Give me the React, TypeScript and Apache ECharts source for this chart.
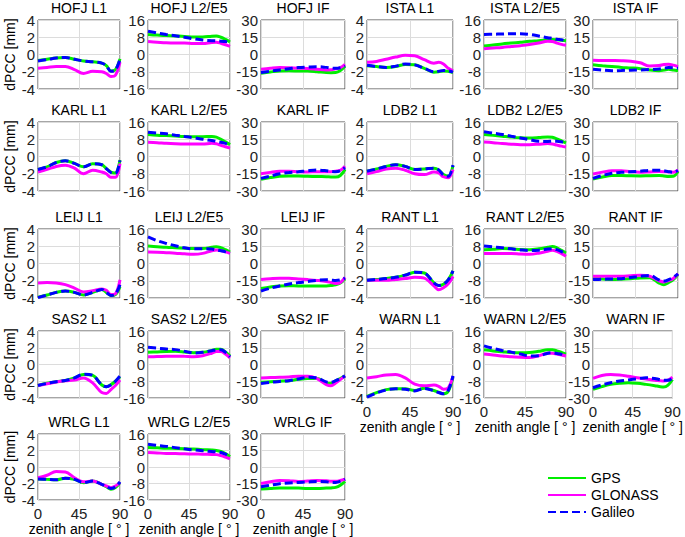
import React, { useEffect, useRef } from "react";
import * as echarts from "echarts";

// zenith angles (deg) at which the curves were read
const ZENITH = [0, 10, 20, 30, 40, 50, 60, 70, 75, 80, 85, 90];
const X_TICKS = [0, 45, 90];
const L1_TICKS = [-4, -2, 0, 2, 4];
const L2_TICKS = [-16, -8, 0, 8, 16];
const IF_TICKS = [-30, -15, 0, 15, 30];
const SYSTEMS = ["GPS", "GLONASS", "Galileo"];

const HOFJ_L1_GPS = [-0.7, -0.55, -0.4, -0.35, -0.55, -0.75, -0.85, -1.0, -1.3, -1.9, -1.75, -0.5];
const HOFJ_L1_GLO = [-1.6, -1.5, -1.4, -1.4, -1.75, -2.2, -1.95, -2.0, -2.2, -2.55, -2.4, -0.9];
const HOFJ_L1_GAL = [-0.75, -0.6, -0.4, -0.35, -0.55, -0.75, -0.85, -1.0, -1.3, -1.95, -1.8, -0.55];
const HOFJ_L2_GPS = [9.3, 9.0, 8.8, 8.6, 8.4, 8.1, 8.1, 8.5, 8.6, 8.0, 7.0, 5.8];
const HOFJ_L2_GLO = [6.0, 5.7, 5.4, 5.3, 5.3, 5.1, 5.1, 5.6, 5.7, 5.2, 4.5, 3.8];
const HOFJ_L2_GAL = [10.8, 10.0, 9.3, 8.7, 8.0, 7.3, 6.7, 6.4, 6.3, 6.2, 6.0, 5.6];
const HOFJ_IF_GPS = [-16.3, -15.2, -14.3, -14.2, -14.3, -14.4, -15.0, -15.7, -15.8, -15.7, -14.0, -10.0];
const HOFJ_IF_GLO = [-12.9, -12.0, -11.4, -11.6, -11.9, -12.2, -12.8, -13.4, -13.3, -12.5, -11.4, -8.6];
const HOFJ_IF_GAL = [-15.7, -14.5, -13.4, -12.4, -11.4, -11.0, -10.6, -11.2, -11.7, -12.0, -11.5, -10.0];

const ISTA_L1_GPS = [-1.3, -1.4, -1.5, -1.4, -1.15, -1.2, -1.6, -2.05, -2.0, -1.9, -1.95, -2.1];
const ISTA_L1_GLO = [-0.9, -0.8, -0.55, -0.3, -0.1, -0.15, -0.6, -1.0, -0.9, -1.1, -1.6, -1.9];
const ISTA_L1_GAL = [-1.25, -1.4, -1.5, -1.35, -1.1, -1.2, -1.6, -2.0, -1.95, -1.85, -1.9, -2.05];
const ISTA_L2_GPS = [4.0, 4.4, 4.9, 5.3, 5.7, 6.1, 6.4, 6.8, 6.9, 6.8, 6.6, 6.4];
const ISTA_L2_GLO = [2.7, 3.0, 3.3, 3.7, 4.1, 4.6, 5.3, 6.2, 6.0, 5.3, 4.7, 4.3];
const ISTA_L2_GAL = [9.3, 9.4, 9.5, 9.6, 9.6, 9.3, 8.6, 7.8, 7.5, 7.1, 6.8, 6.4];
const ISTA_IF_GPS = [-9.0, -9.8, -10.5, -11.2, -11.7, -12.3, -13.5, -14.1, -13.6, -12.9, -13.5, -14.1];
const ISTA_IF_GLO = [-5.1, -5.2, -5.3, -5.4, -5.8, -7.2, -10.0, -9.6, -8.6, -8.4, -9.2, -10.5];
const ISTA_IF_GAL = [-12.9, -13.6, -14.1, -13.9, -13.6, -13.4, -13.1, -12.6, -12.0, -11.4, -11.5, -12.0];

const KARL_L1_GPS = [-1.5, -1.2, -0.7, -0.5, -0.8, -1.2, -0.85, -0.95, -1.4, -1.8, -1.9, -0.4];
const KARL_L1_GLO = [-1.8, -1.5, -1.15, -1.0, -1.35, -2.0, -1.6, -1.8, -2.0, -2.4, -2.4, -0.8];
const KARL_L1_GAL = [-1.5, -1.2, -0.7, -0.5, -0.8, -1.2, -0.85, -0.95, -1.4, -1.85, -1.95, -0.45];
const KARL_L2_GPS = [10.2, 9.9, 9.7, 9.5, 9.3, 9.2, 9.2, 9.3, 9.0, 8.0, 6.8, 5.5];
const KARL_L2_GLO = [6.6, 6.4, 6.1, 5.9, 5.8, 5.8, 5.8, 6.1, 5.9, 5.2, 4.5, 3.9];
const KARL_L2_GAL = [11.3, 10.9, 10.5, 9.9, 9.3, 8.7, 8.0, 7.4, 7.0, 6.6, 6.1, 5.5];
const KARL_IF_GPS = [-19.9, -18.3, -17.2, -17.0, -17.0, -17.2, -17.4, -17.6, -17.8, -17.9, -16.5, -11.2];
const KARL_IF_GLO = [-15.0, -13.8, -12.9, -12.8, -13.2, -13.4, -13.3, -13.3, -13.2, -12.8, -12.0, -8.4];
const KARL_IF_GAL = [-19.0, -17.0, -15.0, -14.0, -13.3, -12.4, -11.8, -12.4, -13.0, -13.3, -12.5, -9.8];

const LDB2_L1_GPS = [-1.7, -1.45, -1.15, -0.95, -1.15, -1.5, -1.45, -1.35, -1.55, -2.1, -2.3, -1.05];
const LDB2_L1_GLO = [-2.0, -1.75, -1.45, -1.35, -1.6, -2.0, -2.1, -1.8, -1.9, -2.35, -2.45, -1.5];
const LDB2_L1_GAL = [-1.7, -1.45, -1.15, -0.95, -1.15, -1.5, -1.45, -1.35, -1.55, -2.15, -2.3, -1.0];
const LDB2_L2_GPS = [10.2, 9.8, 9.4, 9.0, 8.7, 8.6, 8.8, 9.1, 8.9, 8.2, 7.3, 6.3];
const LDB2_L2_GLO = [6.7, 6.4, 6.0, 5.7, 5.5, 5.5, 5.7, 6.0, 5.8, 5.3, 4.8, 4.4];
const LDB2_L2_GAL = [11.5, 10.8, 10.2, 9.4, 8.6, 7.8, 7.1, 7.0, 7.1, 7.1, 6.8, 6.3];
const LDB2_IF_GPS = [-19.5, -17.8, -16.6, -16.6, -16.8, -16.9, -16.7, -16.6, -16.9, -17.3, -17.2, -13.1];
const LDB2_IF_GLO = [-15.2, -13.6, -12.4, -12.4, -13.3, -13.7, -13.4, -13.1, -13.2, -13.5, -13.7, -11.7];
const LDB2_IF_GAL = [-19.0, -16.5, -14.6, -13.8, -13.3, -12.8, -12.0, -11.9, -12.4, -13.2, -13.7, -12.2];

const LEIJ_L1_GPS = [-3.9, -3.65, -3.35, -3.2, -3.35, -3.65, -3.35, -3.0, -3.35, -3.7, -3.6, -2.7];
const LEIJ_L1_GLO = [-2.25, -2.2, -2.25, -2.45, -2.85, -3.3, -3.15, -2.95, -3.1, -3.6, -3.5, -1.9];
const LEIJ_L1_GAL = [-3.95, -3.65, -3.35, -3.2, -3.35, -3.65, -3.35, -3.0, -3.35, -3.7, -3.55, -2.45];
const LEIJ_L2_GPS = [8.1, 7.8, 7.5, 7.3, 7.1, 6.9, 6.9, 7.5, 7.8, 7.3, 6.4, 5.3];
const LEIJ_L2_GLO = [5.3, 5.2, 5.0, 4.8, 4.5, 4.3, 4.7, 5.9, 6.3, 6.0, 5.4, 4.7];
const LEIJ_L2_GAL = [12.3, 10.6, 9.3, 8.2, 7.3, 6.8, 6.8, 6.7, 6.3, 5.9, 5.4, 4.7];
const LEIJ_IF_GPS = [-21.8, -20.4, -19.5, -19.4, -19.5, -19.5, -19.5, -19.5, -19.2, -18.6, -17.0, -13.4];
const LEIJ_IF_GLO = [-14.0, -13.3, -12.8, -12.9, -13.4, -14.0, -14.7, -15.6, -16.5, -17.4, -16.5, -12.0];
const LEIJ_IF_GAL = [-24.0, -21.5, -19.5, -17.8, -16.6, -15.6, -14.6, -14.1, -14.4, -14.8, -14.3, -12.8];

const RANT_L1_GPS = [-1.95, -1.85, -1.75, -1.6, -1.35, -1.0, -1.1, -2.25, -2.55, -2.4, -1.9, -0.85];
const RANT_L1_GLO = [-1.95, -1.95, -1.95, -1.85, -1.75, -1.6, -1.7, -2.6, -3.05, -2.8, -2.35, -1.5];
const RANT_L1_GAL = [-1.95, -1.85, -1.75, -1.6, -1.35, -1.0, -1.1, -2.25, -2.55, -2.4, -1.9, -0.85];
const RANT_L2_GPS = [6.4, 6.6, 6.9, 6.8, 6.5, 6.4, 6.8, 7.5, 7.9, 7.3, 6.1, 4.9];
const RANT_L2_GLO = [4.6, 4.6, 4.6, 4.6, 4.4, 4.3, 4.8, 5.7, 6.1, 5.6, 4.6, 3.4];
const RANT_L2_GAL = [8.1, 7.7, 7.3, 6.8, 6.3, 6.0, 6.2, 6.7, 6.9, 6.4, 5.5, 4.3];
const RANT_IF_GPS = [-12.6, -13.4, -14.0, -13.7, -13.2, -12.6, -12.3, -17.0, -18.4, -16.6, -14.0, -9.6];
const RANT_IF_GLO = [-11.1, -11.1, -11.1, -11.1, -10.6, -10.2, -11.1, -15.0, -16.0, -14.8, -13.0, -9.0];
const RANT_IF_GAL = [-14.0, -13.7, -13.4, -13.2, -12.2, -11.1, -10.4, -14.3, -15.3, -14.0, -12.0, -9.0];

const SAS2_L1_GPS = [-2.5, -2.25, -2.05, -1.9, -1.6, -1.2, -1.3, -2.45, -2.65, -2.4, -2.0, -1.45];
const SAS2_L1_GLO = [-2.5, -2.3, -2.1, -1.95, -1.85, -1.6, -2.2, -3.35, -3.45, -3.0, -2.5, -1.85];
const SAS2_L1_GAL = [-2.5, -2.25, -2.05, -1.9, -1.6, -1.15, -1.3, -2.45, -2.65, -2.45, -2.0, -1.35];
const SAS2_L2_GPS = [5.8, 6.0, 6.2, 6.3, 6.0, 5.6, 5.8, 6.7, 7.3, 7.3, 6.0, 4.0];
const SAS2_L2_GLO = [3.7, 3.8, 3.9, 4.0, 3.9, 3.7, 4.2, 5.4, 6.2, 6.2, 5.0, 3.2];
const SAS2_L2_GAL = [8.2, 7.8, 7.4, 7.1, 6.3, 5.5, 5.8, 6.6, 7.0, 7.0, 5.8, 3.7];
const SAS2_IF_GPS = [-16.0, -15.5, -15.0, -14.5, -13.3, -12.6, -12.6, -16.5, -16.8, -14.6, -12.5, -10.2];
const SAS2_IF_GLO = [-12.0, -11.7, -11.4, -11.1, -10.5, -10.5, -12.6, -18.0, -19.0, -16.5, -13.5, -10.2];
const SAS2_IF_GAL = [-17.0, -16.0, -15.2, -14.5, -13.0, -11.5, -12.0, -15.6, -16.0, -14.5, -12.5, -10.2];

const WARN_L1_GPS = [-3.8, -3.35, -3.0, -2.9, -2.9, -3.1, -2.85, -3.1, -3.3, -3.5, -3.2, -1.5];
const WARN_L1_GLO = [-1.6, -1.45, -1.25, -1.2, -1.6, -2.35, -2.55, -2.45, -2.6, -2.95, -2.8, -1.4];
const WARN_L1_GAL = [-3.9, -3.4, -3.05, -2.9, -2.95, -3.15, -2.85, -3.15, -3.35, -3.5, -3.1, -1.35];
const WARN_L2_GPS = [7.0, 6.5, 6.1, 5.7, 5.6, 5.7, 6.3, 7.0, 7.0, 6.5, 5.8, 5.0];
const WARN_L2_GLO = [5.0, 4.5, 4.1, 3.7, 3.5, 3.4, 4.2, 5.4, 5.4, 5.0, 4.5, 4.1];
const WARN_L2_GAL = [8.9, 7.7, 6.7, 5.9, 5.0, 4.1, 4.2, 5.4, 5.6, 5.3, 4.9, 4.5];
const WARN_IF_GPS = [-22.3, -19.8, -17.8, -16.8, -16.3, -16.8, -17.8, -19.0, -19.7, -20.2, -18.5, -13.4];
const WARN_IF_GLO = [-12.5, -9.8, -9.0, -9.5, -10.6, -11.9, -13.0, -14.2, -14.5, -14.8, -14.0, -11.3];
const WARN_IF_GAL = [-20.8, -18.3, -16.3, -14.8, -13.8, -12.8, -11.9, -12.6, -13.4, -14.0, -14.2, -12.5];

const WRLG_L1_GPS = [-1.45, -1.5, -1.55, -1.35, -1.5, -1.9, -1.7, -2.1, -2.4, -2.7, -2.5, -1.9];
const WRLG_L1_GLO = [-1.3, -1.0, -0.55, -0.6, -1.3, -1.8, -1.7, -2.1, -2.3, -2.5, -2.3, -1.9];
const WRLG_L1_GAL = [-1.45, -1.5, -1.55, -1.35, -1.5, -1.9, -1.7, -2.1, -2.35, -2.6, -2.4, -1.8];
const WRLG_L2_GPS = [9.5, 9.3, 9.1, 9.0, 8.9, 8.7, 8.4, 8.2, 8.0, 7.5, 6.5, 5.0];
const WRLG_L2_GLO = [7.0, 6.8, 6.6, 6.5, 6.4, 6.3, 6.2, 6.1, 6.0, 5.5, 4.8, 4.0];
const WRLG_L2_GAL = [11.0, 10.5, 10.0, 9.4, 8.8, 8.3, 7.9, 7.5, 7.3, 7.0, 6.2, 5.0];
const WRLG_IF_GPS = [-20.0, -19.5, -19.0, -19.0, -19.2, -19.5, -19.5, -19.2, -19.0, -18.5, -16.5, -13.0];
const WRLG_IF_GLO = [-15.0, -13.5, -12.2, -12.5, -13.2, -12.8, -12.2, -12.6, -13.0, -13.0, -12.3, -11.0];
const WRLG_IF_GAL = [-18.0, -16.5, -15.2, -14.5, -14.0, -13.6, -13.2, -13.5, -14.0, -14.0, -13.0, -11.0];

const PANELS = [
  ["HOFJ L1", L1_TICKS, HOFJ_L1_GPS, HOFJ_L1_GLO, HOFJ_L1_GAL],
  ["HOFJ L2/E5", L2_TICKS, HOFJ_L2_GPS, HOFJ_L2_GLO, HOFJ_L2_GAL],
  ["HOFJ IF", IF_TICKS, HOFJ_IF_GPS, HOFJ_IF_GLO, HOFJ_IF_GAL],
  ["ISTA L1", L1_TICKS, ISTA_L1_GPS, ISTA_L1_GLO, ISTA_L1_GAL],
  ["ISTA L2/E5", L2_TICKS, ISTA_L2_GPS, ISTA_L2_GLO, ISTA_L2_GAL],
  ["ISTA IF", IF_TICKS, ISTA_IF_GPS, ISTA_IF_GLO, ISTA_IF_GAL],
  ["KARL L1", L1_TICKS, KARL_L1_GPS, KARL_L1_GLO, KARL_L1_GAL],
  ["KARL L2/E5", L2_TICKS, KARL_L2_GPS, KARL_L2_GLO, KARL_L2_GAL],
  ["KARL IF", IF_TICKS, KARL_IF_GPS, KARL_IF_GLO, KARL_IF_GAL],
  ["LDB2 L1", L1_TICKS, LDB2_L1_GPS, LDB2_L1_GLO, LDB2_L1_GAL],
  ["LDB2 L2/E5", L2_TICKS, LDB2_L2_GPS, LDB2_L2_GLO, LDB2_L2_GAL],
  ["LDB2 IF", IF_TICKS, LDB2_IF_GPS, LDB2_IF_GLO, LDB2_IF_GAL],
  ["LEIJ L1", L1_TICKS, LEIJ_L1_GPS, LEIJ_L1_GLO, LEIJ_L1_GAL],
  ["LEIJ L2/E5", L2_TICKS, LEIJ_L2_GPS, LEIJ_L2_GLO, LEIJ_L2_GAL],
  ["LEIJ IF", IF_TICKS, LEIJ_IF_GPS, LEIJ_IF_GLO, LEIJ_IF_GAL],
  ["RANT L1", L1_TICKS, RANT_L1_GPS, RANT_L1_GLO, RANT_L1_GAL],
  ["RANT L2/E5", L2_TICKS, RANT_L2_GPS, RANT_L2_GLO, RANT_L2_GAL],
  ["RANT IF", IF_TICKS, RANT_IF_GPS, RANT_IF_GLO, RANT_IF_GAL],
  ["SAS2 L1", L1_TICKS, SAS2_L1_GPS, SAS2_L1_GLO, SAS2_L1_GAL],
  ["SAS2 L2/E5", L2_TICKS, SAS2_L2_GPS, SAS2_L2_GLO, SAS2_L2_GAL],
  ["SAS2 IF", IF_TICKS, SAS2_IF_GPS, SAS2_IF_GLO, SAS2_IF_GAL],
  ["WARN L1", L1_TICKS, WARN_L1_GPS, WARN_L1_GLO, WARN_L1_GAL],
  ["WARN L2/E5", L2_TICKS, WARN_L2_GPS, WARN_L2_GLO, WARN_L2_GAL],
  ["WARN IF", IF_TICKS, WARN_IF_GPS, WARN_IF_GLO, WARN_IF_GAL],
  ["WRLG L1", L1_TICKS, WRLG_L1_GPS, WRLG_L1_GLO, WRLG_L1_GAL],
  ["WRLG L2/E5", L2_TICKS, WRLG_L2_GPS, WRLG_L2_GLO, WRLG_L2_GAL],
  ["WRLG IF", IF_TICKS, WRLG_IF_GPS, WRLG_IF_GLO, WRLG_IF_GAL],
] as const;

// layout (pixels)
const COL_LEFT = [38, 148, 261, 367, 484, 593];
const COL_WIDTH = [82, 82, 84, 86, 82, 85];
const ROW_TOP = [20, 122, 229, 331, 434];
const ROW_HEIGHT = [69, 69, 69, 67, 69];
const COLORS = ["#00ee00", "#ff00ff", "#0000ff"];
const FONT = "Liberation Sans";

export default function App() {
  const ref = useRef<HTMLDivElement>(null);
  useEffect(() => {
    if (!ref.current) return;
    const chart = echarts.init(ref.current, undefined, { renderer: "svg" });
    const grids: any[] = [];
    const xAxes: any[] = [];
    const yAxes: any[] = [];
    const titles: any[] = [];
    const series: any[] = [];
    PANELS.forEach((p, i) => {
      const row = Math.floor(i / 6);
      const col = i % 6;
      const left = COL_LEFT[col];
      const width = COL_WIDTH[col];
      const top = ROW_TOP[row];
      const ticks = p[1] as readonly number[];
      const bottomPanel = row === 4 || (row === 3 && col >= 3);
      grids.push({
        left,
        top,
        width,
        height: ROW_HEIGHT[row],
        show: true,
        borderColor: "#4d4d4d",
        borderWidth: 1,
        backgroundColor: "#fff",
      });
      titles.push({
        text: p[0],
        left: left + width / 2,
        top: top - 19,
        textAlign: "center",
        padding: 0,
        textStyle: { fontSize: 14, fontWeight: "normal", color: "#000", fontFamily: FONT },
      });
      xAxes.push({
        type: "value",
        gridIndex: i,
        min: X_TICKS[0],
        max: X_TICKS[X_TICKS.length - 1],
        interval: X_TICKS[1] - X_TICKS[0],
        axisLine: { show: false },
        axisTick: { show: false },
        splitLine: { show: true, lineStyle: { color: "#dcdcdc", width: 1 } },
        axisLabel: {
          show: bottomPanel,
          fontSize: 15,
          color: "#222",
          fontFamily: FONT,
          margin: 6,
        },
        name: bottomPanel ? "zenith angle [ ° ]" : "",
        nameLocation: "middle",
        nameGap: 22,
        nameTextStyle: { fontSize: 14, color: "#000", fontFamily: FONT },
      });
      yAxes.push({
        type: "value",
        gridIndex: i,
        min: ticks[0],
        max: ticks[ticks.length - 1],
        interval: ticks[1] - ticks[0],
        axisLine: { show: false },
        axisTick: { show: false },
        splitLine: { show: true, lineStyle: { color: "#dcdcdc", width: 1 } },
        axisLabel: { fontSize: 15, color: "#222", fontFamily: FONT, margin: 3 },
        name: col === 0 ? "dPCC [mm]" : "",
        nameLocation: "middle",
        nameGap: 21,
        nameTextStyle: { fontSize: 14, color: "#000", fontFamily: FONT },
      });
      [p[2], p[3], p[4]].forEach((vals, k) => {
        series.push({
          type: "line",
          name: SYSTEMS[k],
          xAxisIndex: i,
          yAxisIndex: i,
          data: ZENITH.map((z, j) => [z, (vals as readonly number[])[j]]),
          smooth: 0.35,
          symbol: "none",
          lineStyle: {
            color: COLORS[k],
            width: 3,
            type: k === 2 ? [8, 4] : "solid",
          },
          itemStyle: { color: COLORS[k] },
          z: 2 + k,
        });
      });
    });
    chart.setOption({
      animation: false,
      backgroundColor: "#fff",
      title: titles,
      grid: grids,
      xAxis: xAxes,
      yAxis: yAxes,
      series,
      legend: {
        data: SYSTEMS,
        orient: "vertical",
        left: 547,
        top: 471,
        itemWidth: 38,
        itemHeight: 14,
        itemGap: 3,
        padding: 0,
        itemStyle: { opacity: 0 },
        textStyle: { fontSize: 14, color: "#000", fontFamily: FONT },
      },
    });
    return () => chart.dispose();
  }, []);
  return (
    <div
      ref={ref}
      style={{ position: "fixed", left: 0, top: 0, width: 685, height: 537, background: "#fff" }}
    />
  );
}
